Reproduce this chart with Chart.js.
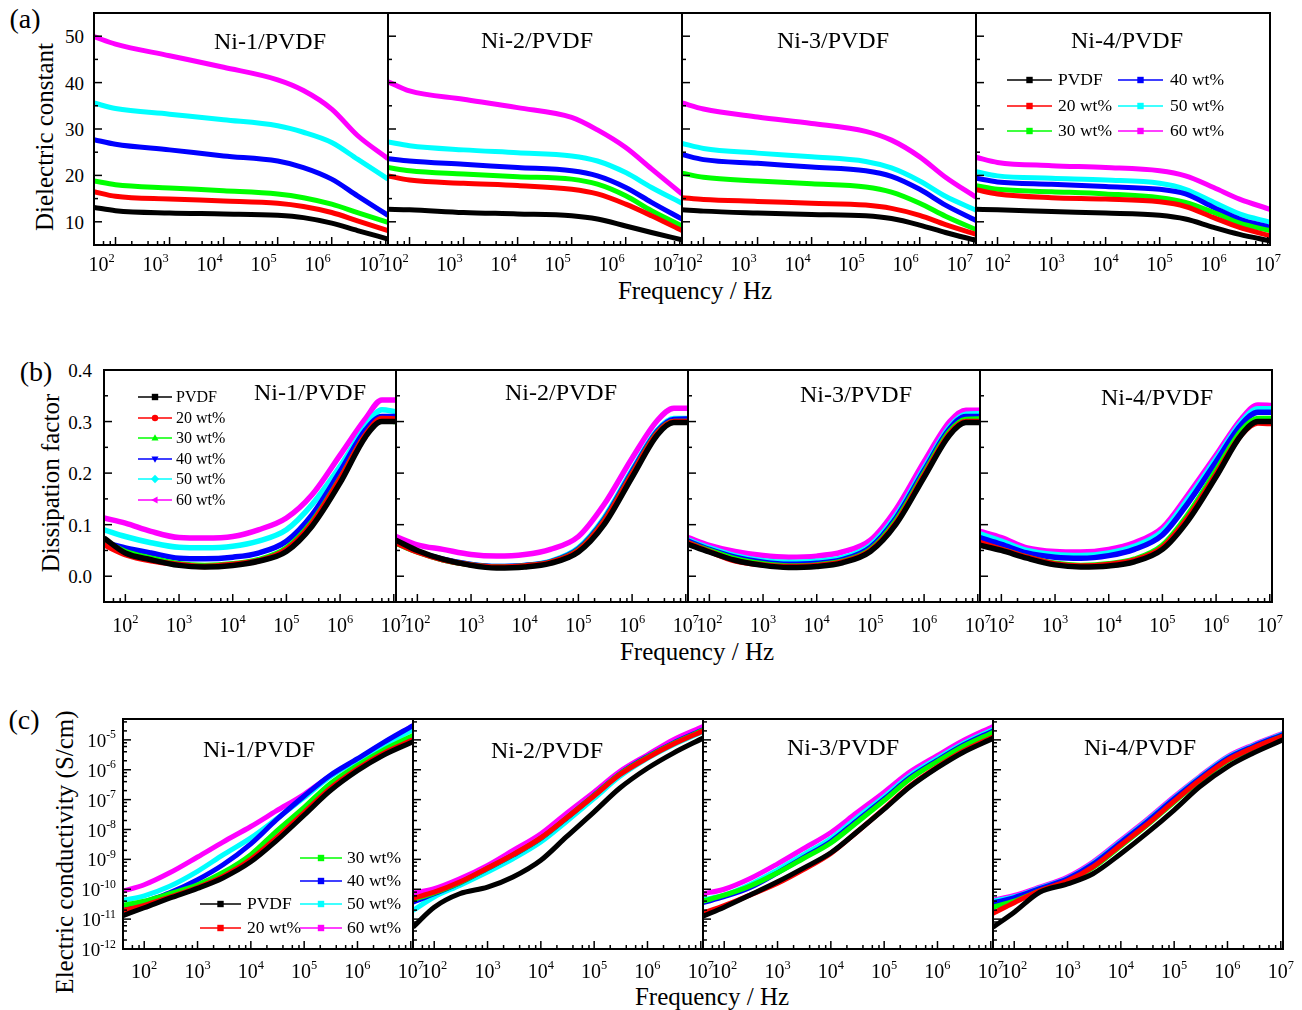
<!DOCTYPE html>
<html>
<head>
<meta charset="utf-8">
<title>Ni/PVDF dielectric spectra</title>
<script src="https://cdn.jsdelivr.net/npm/chart.js@4.4.1/dist/chart.umd.min.js"></script>
<style>
  html, body { margin: 0; padding: 0; background: #fff; }
  body { position: relative; width: 1302px; height: 1010px; overflow: hidden;
         font-family: "Liberation Serif", "Times New Roman", serif; color: #000; }
  canvas { position: absolute; }
  .t { position: absolute; white-space: nowrap; line-height: 1; transform: translate(-50%, -50%); }
  .tl { position: absolute; white-space: nowrap; line-height: 1; transform: translateY(-50%); }
  .tr { position: absolute; white-space: nowrap; line-height: 1; transform: translate(-100%, -50%); }
  .rot { transform: translate(-50%, -50%) rotate(-90deg); }
  sup { font-size: 0.62em; line-height: 0; vertical-align: baseline; position: relative; top: -0.72em; }
  svg.mk { position: absolute; overflow: visible; }
</style>
</head>
<body>

<div class="t" style="left:25px;top:19px;font-size:28px">(a)</div>
<div class="t" style="left:36px;top:372px;font-size:28px">(b)</div>
<div class="t" style="left:24px;top:720px;font-size:28px">(c)</div>

<div class="t rot" style="left:44px;top:137px;font-size:25px">Dielectric constant</div>
<div class="t rot" style="left:50px;top:483px;font-size:25px">Dissipation factor</div>
<div class="t rot" style="left:64px;top:852px;font-size:25px">Electric conductivity (S/cm)</div>

<div class="t" style="left:695px;top:290px;font-size:25px">Frequency / Hz</div>
<div class="t" style="left:697px;top:651px;font-size:25px">Frequency / Hz</div>
<div class="t" style="left:712px;top:996px;font-size:25px">Frequency / Hz</div>

<script>
// ---- data ----
// frequencies (Hz) at which values were read
var freqA = [40, 100, 1e3, 1e4, 1e5, 3e5, 1e6, 3e6, 1.1e7];
var freqB = [40, 100, 300, 1e3, 3e3, 1e4, 3e4, 1e5, 3e5, 1e6, 3e6, 6e6, 1.1e7];
var freqC = [40, 100, 300, 1e3, 3e3, 1e4, 3e4, 1e5, 3e5, 1e6, 3e6, 1.1e7];

var seriesNames = ['PVDF', '20 wt%', '30 wt%', '40 wt%', '50 wt%', '60 wt%'];
var seriesColors = ['#000000', '#ff0000', '#00ff00', '#0000ff', '#00ffff', '#ff00ff'];
var panelNames = ['Ni-1/PVDF', 'Ni-2/PVDF', 'Ni-3/PVDF', 'Ni-4/PVDF'];

var xTicks = [1e2, 1e3, 1e4, 1e5, 1e6, 1e7];
var yTicksA = [10, 20, 30, 40, 50];
var yTicksB = [0, 0.1, 0.2, 0.3, 0.4];
var yTicksC = [1e-12, 1e-11, 1e-10, 1e-9, 1e-8, 1e-7, 1e-6, 1e-5];

// (a) dielectric constant, one row per series (PVDF .. 60 wt%)
var epsNi1 = [
  [13.1, 12.4, 11.9, 11.7, 11.4, 10.9, 9.7, 8.1, 6.3],
  [16.5, 15.5, 14.9, 14.5, 14.0, 13.3, 12.0, 10.2, 8.1],
  [18.8, 18.0, 17.3, 16.7, 16.0, 15.2, 13.8, 12.0, 9.9],
  [27.7, 26.7, 25.5, 24.2, 23.1, 21.7, 19.2, 15.6, 11.4],
  [35.6, 34.4, 33.2, 32.0, 30.7, 29.3, 27.1, 23.5, 19.2],
  [49.9, 48.3, 45.8, 43.3, 40.6, 38.3, 34.3, 28.6, 23.6]
];
var epsNi2 = [
  [12.7, 12.6, 12.0, 11.7, 11.3, 10.6, 9.1, 7.7, 6.1],
  [19.9, 19.0, 18.3, 17.8, 17.0, 16.0, 13.8, 11.3, 8.1],
  [21.7, 21.0, 20.3, 19.7, 19.2, 18.1, 15.6, 12.4, 9.1],
  [23.6, 23.1, 22.4, 21.7, 21.0, 19.9, 17.4, 14.2, 10.6],
  [27.2, 26.4, 25.5, 24.9, 24.2, 23.1, 20.6, 17.4, 14.0],
  [40.2, 38.2, 36.4, 34.6, 32.5, 29.8, 26.0, 21.4, 16.0]
];
var epsNi3 = [
  [12.6, 12.3, 11.9, 11.6, 11.3, 10.7, 9.3, 7.7, 6.0],
  [15.2, 14.8, 14.4, 14.0, 13.6, 12.9, 11.4, 9.4, 7.3],
  [20.5, 19.6, 18.8, 18.2, 17.5, 16.4, 14.0, 11.2, 8.3],
  [24.5, 23.4, 22.6, 21.8, 21.0, 19.8, 17.0, 13.6, 10.3],
  [26.9, 25.8, 24.8, 24.0, 23.0, 21.6, 18.8, 15.5, 12.5],
  [35.6, 34.3, 32.6, 31.2, 29.5, 27.6, 24.0, 19.6, 15.3]
];
var epsNi4 = [
  [12.7, 12.6, 12.2, 11.9, 11.4, 10.6, 8.8, 7.3, 5.9],
  [16.9, 16.0, 15.2, 14.9, 14.3, 13.3, 10.9, 8.8, 7.0],
  [17.8, 17.0, 16.5, 16.0, 15.2, 14.2, 12.0, 9.7, 8.1],
  [19.4, 18.6, 18.1, 17.6, 17.0, 16.0, 13.1, 10.6, 8.8],
  [20.8, 19.9, 19.4, 19.0, 18.3, 17.0, 14.2, 11.7, 9.9],
  [23.9, 22.8, 22.1, 21.7, 21.0, 19.9, 17.4, 14.9, 12.7]
];

// (b) dissipation factor
var tanNi1 = [
  [0.074, 0.045, 0.032, 0.021, 0.018, 0.021, 0.029, 0.048, 0.097, 0.181, 0.271, 0.300, 0.300],
  [0.061, 0.042, 0.030, 0.023, 0.019, 0.023, 0.030, 0.052, 0.103, 0.189, 0.275, 0.306, 0.305],
  [0.068, 0.048, 0.035, 0.024, 0.021, 0.024, 0.032, 0.055, 0.106, 0.190, 0.274, 0.303, 0.300],
  [0.065, 0.055, 0.045, 0.035, 0.034, 0.037, 0.045, 0.068, 0.119, 0.203, 0.284, 0.310, 0.310],
  [0.090, 0.077, 0.065, 0.056, 0.055, 0.058, 0.068, 0.090, 0.139, 0.213, 0.290, 0.323, 0.319],
  [0.113, 0.103, 0.087, 0.075, 0.074, 0.077, 0.090, 0.113, 0.158, 0.235, 0.306, 0.342, 0.342]
];
var tanNi2 = [
  [0.070, 0.050, 0.033, 0.021, 0.016, 0.018, 0.025, 0.047, 0.100, 0.192, 0.275, 0.298, 0.298],
  [0.065, 0.047, 0.032, 0.022, 0.018, 0.020, 0.027, 0.050, 0.106, 0.198, 0.278, 0.300, 0.300],
  [0.064, 0.047, 0.032, 0.022, 0.018, 0.020, 0.027, 0.051, 0.107, 0.199, 0.279, 0.300, 0.300],
  [0.066, 0.048, 0.033, 0.023, 0.019, 0.021, 0.028, 0.053, 0.110, 0.203, 0.282, 0.304, 0.305],
  [0.065, 0.048, 0.032, 0.023, 0.019, 0.021, 0.029, 0.055, 0.113, 0.206, 0.284, 0.306, 0.306],
  [0.077, 0.061, 0.052, 0.042, 0.039, 0.042, 0.052, 0.077, 0.139, 0.229, 0.303, 0.326, 0.326]
];
var tanNi3 = [
  [0.062, 0.047, 0.031, 0.021, 0.017, 0.019, 0.026, 0.048, 0.101, 0.192, 0.274, 0.298, 0.298],
  [0.065, 0.048, 0.030, 0.022, 0.019, 0.021, 0.028, 0.050, 0.104, 0.196, 0.277, 0.300, 0.300],
  [0.065, 0.050, 0.034, 0.024, 0.020, 0.022, 0.029, 0.052, 0.108, 0.200, 0.281, 0.304, 0.305],
  [0.068, 0.052, 0.037, 0.027, 0.023, 0.025, 0.032, 0.056, 0.113, 0.205, 0.286, 0.310, 0.310],
  [0.070, 0.055, 0.040, 0.030, 0.027, 0.029, 0.036, 0.060, 0.118, 0.210, 0.290, 0.314, 0.315],
  [0.075, 0.060, 0.048, 0.040, 0.037, 0.039, 0.047, 0.070, 0.130, 0.222, 0.300, 0.322, 0.322]
];
var tanNi4 = [
  [0.060, 0.050, 0.035, 0.022, 0.018, 0.020, 0.028, 0.052, 0.108, 0.193, 0.275, 0.300, 0.300],
  [0.065, 0.052, 0.037, 0.024, 0.020, 0.023, 0.031, 0.056, 0.114, 0.198, 0.275, 0.297, 0.296],
  [0.062, 0.052, 0.037, 0.025, 0.021, 0.024, 0.033, 0.060, 0.120, 0.205, 0.283, 0.306, 0.306],
  [0.075, 0.062, 0.045, 0.037, 0.035, 0.040, 0.052, 0.080, 0.142, 0.222, 0.295, 0.318, 0.318],
  [0.082, 0.068, 0.050, 0.042, 0.040, 0.045, 0.058, 0.087, 0.150, 0.228, 0.300, 0.325, 0.325],
  [0.087, 0.075, 0.055, 0.048, 0.047, 0.052, 0.065, 0.094, 0.158, 0.235, 0.306, 0.332, 0.331]
];

// (c) electric conductivity, stored as log10(S/cm)
var logSigmaNi1 = [
  [-10.88, -10.62, -10.30, -9.97, -9.62, -9.08, -8.38, -7.52, -6.72, -6.03, -5.52, -5.06],
  [-10.71, -10.54, -10.26, -9.94, -9.57, -9.00, -8.28, -7.43, -6.64, -5.97, -5.46, -5.00],
  [-10.54, -10.40, -10.15, -9.85, -9.44, -8.84, -8.06, -7.26, -6.48, -5.85, -5.35, -4.85],
  [-10.71, -10.43, -10.12, -9.68, -9.18, -8.48, -7.68, -6.88, -6.20, -5.63, -5.10, -4.52],
  [-10.37, -10.22, -9.90, -9.40, -8.85, -8.28, -7.65, -6.93, -6.25, -5.68, -5.18, -4.66],
  [-10.06, -9.85, -9.45, -8.92, -8.42, -7.90, -7.38, -6.82, -6.22, -5.65, -5.13, -4.52]
];
var logSigmaNi2 = [
  [-11.27, -10.60, -10.15, -9.93, -9.59, -9.03, -8.25, -7.41, -6.62, -5.95, -5.45, -4.94],
  [-10.30, -10.10, -9.76, -9.29, -8.84, -8.28, -7.62, -6.87, -6.17, -5.60, -5.15, -4.70],
  [-10.35, -10.12, -9.78, -9.30, -8.85, -8.29, -7.62, -6.86, -6.15, -5.58, -5.13, -4.68],
  [-10.43, -10.15, -9.79, -9.31, -8.86, -8.30, -7.63, -6.85, -6.14, -5.56, -5.11, -4.66],
  [-10.71, -10.26, -9.87, -9.42, -8.98, -8.42, -7.74, -6.96, -6.23, -5.62, -5.17, -4.72],
  [-10.13, -9.98, -9.65, -9.20, -8.70, -8.14, -7.46, -6.74, -6.06, -5.50, -5.00, -4.55]
];
var logSigmaNi3 = [
  [-10.90, -10.60, -10.20, -9.75, -9.30, -8.78, -8.10, -7.32, -6.58, -5.93, -5.42, -4.95],
  [-10.80, -10.55, -10.20, -9.80, -9.35, -8.80, -8.10, -7.30, -6.55, -5.90, -5.38, -4.90],
  [-10.40, -10.20, -9.90, -9.45, -8.98, -8.45, -7.78, -7.03, -6.32, -5.72, -5.22, -4.75],
  [-10.45, -10.25, -9.95, -9.45, -8.95, -8.40, -7.72, -6.98, -6.27, -5.68, -5.18, -4.70],
  [-10.35, -10.20, -9.85, -9.35, -8.85, -8.30, -7.62, -6.90, -6.20, -5.62, -5.13, -4.65],
  [-10.15, -10.00, -9.65, -9.15, -8.65, -8.10, -7.45, -6.75, -6.08, -5.52, -5.03, -4.55]
];
var logSigmaNi4 = [
  [-11.27, -10.77, -10.10, -9.82, -9.48, -8.81, -8.14, -7.35, -6.57, -5.90, -5.45, -5.00],
  [-10.80, -10.45, -10.05, -9.72, -9.25, -8.52, -7.85, -7.05, -6.35, -5.68, -5.27, -4.87],
  [-10.60, -10.40, -10.05, -9.75, -9.28, -8.55, -7.88, -7.08, -6.38, -5.70, -5.28, -4.87],
  [-10.45, -10.28, -9.98, -9.65, -9.16, -8.43, -7.76, -6.97, -6.29, -5.62, -5.22, -4.82],
  [-10.40, -10.25, -9.96, -9.63, -9.13, -8.40, -7.73, -6.94, -6.26, -5.59, -5.20, -4.80],
  [-10.37, -10.21, -9.93, -9.59, -9.09, -8.36, -7.69, -6.90, -6.23, -5.56, -5.17, -4.78]
];

// ---- drawing ----
var X_MIN = 40, X_MAX = 1.1e7;

function powHtml(v) {
  return '10<sup>' + Math.round(Math.log10(v)) + '</sup>';
}

function logMinors(lo, hi) {
  var out = [];
  for (var e = Math.floor(Math.log10(lo)); e <= Math.ceil(Math.log10(hi)); e++) {
    [2, 4, 6, 8].forEach(function (m) {
      var v = m * Math.pow(10, e);
      if (v > lo && v < hi) out.push(v);
    });
  }
  return out;
}

// box frame + inward tick marks, like the original plotting program
var frameTicks = {
  id: 'frameTicks',
  afterDatasetsDraw: function (chart, args, o) {
    var ctx = chart.ctx, a = chart.chartArea, sx = chart.scales.x, sy = chart.scales.y;
    ctx.save();
    ctx.strokeStyle = '#000';
    ctx.lineWidth = 1.5;
    function vt(v, len) {
      var p = sx.getPixelForValue(v);
      ctx.beginPath(); ctx.moveTo(p, a.bottom); ctx.lineTo(p, a.bottom - len); ctx.stroke();
    }
    function ht(v, len) {
      var p = sy.getPixelForValue(v);
      ctx.beginPath(); ctx.moveTo(a.left, p); ctx.lineTo(a.left + len, p); ctx.stroke();
    }
    o.xMajor.forEach(function (v) { vt(v, 8); });
    o.xMinor.forEach(function (v) { vt(v, 4); });
    o.yMajor.forEach(function (v) { ht(v, 8); });
    o.yMinor.forEach(function (v) { ht(v, 4); });
    ctx.lineWidth = 2;
    ctx.strokeRect(a.left, a.top, a.right - a.left, a.bottom - a.top);
    ctx.restore();
  }
};
Chart.register(frameTicks);

function addText(x, y, html, size, cls) {
  var d = document.createElement('div');
  d.className = cls || 't';
  d.style.left = x + 'px';
  d.style.top = y + 'px';
  d.style.fontSize = size + 'px';
  d.innerHTML = html;
  document.body.appendChild(d);
}

function addPanel(p) {
  var padT = 22, padR = 30, padB = 46, padL = 4;
  var w = p.w + padL + padR, h = p.h + padT + padB;
  var cvLeft = p.x - padL, cvTop = p.y - padT;
  var cv = document.createElement('canvas');
  cv.width = w; cv.height = h;
  cv.style.left = cvLeft + 'px';
  cv.style.top = cvTop + 'px';
  cv.style.width = w + 'px';
  cv.style.height = h + 'px';
  document.body.appendChild(cv);

  var datasets = p.values.map(function (vals, i) {
    return {
      label: seriesNames[i],
      data: p.freq.map(function (f, j) { return { x: f, y: p.toY ? p.toY(vals[j]) : vals[j] }; }),
      borderColor: seriesColors[i],
      backgroundColor: seriesColors[i],
      borderWidth: p.lw,
      pointRadius: 0,
      fill: false,
      cubicInterpolationMode: 'monotone'
    };
  });

  var chart = new Chart(cv.getContext('2d'), {
    type: 'line',
    data: { datasets: datasets },
    options: {
      responsive: false,
      animation: false,
      devicePixelRatio: 1,
      events: [],
      layout: { padding: { top: padT, right: padR, bottom: 0, left: padL } },
      plugins: {
        legend: { display: false },
        tooltip: { enabled: false },
        frameTicks: { xMajor: xTicks, xMinor: logMinors(X_MIN, X_MAX), yMajor: p.yTicks, yMinor: p.yMinor }
      },
      scales: {
        x: {
          type: 'logarithmic', min: X_MIN, max: X_MAX,
          grid: { display: false, drawTicks: false }, border: { display: false },
          afterBuildTicks: function (s) { s.ticks = xTicks.map(function (v) { return { value: v }; }); },
          afterFit: function (s) { s.height = padB; },
          ticks: { display: false }
        },
        y: {
          type: p.yType, min: p.yMin, max: p.yMax,
          grid: { display: false, drawTicks: false }, border: { display: false },
          afterBuildTicks: function (s) { s.ticks = p.yTicks.map(function (v) { return { value: v }; }); },
          afterFit: function (s) { s.width = 0; },
          ticks: { display: false }
        }
      }
    }
  });

  // tick labels as html text, placed through the chart's own scales
  var a = chart.chartArea, sx = chart.scales.x, sy = chart.scales.y;
  xTicks.forEach(function (v) {
    addText(cvLeft + sx.getPixelForValue(v) + (p.xOff || 0), cvTop + a.bottom + p.xLabDy, powHtml(v), 20);
  });
  if (p.showY) {
    p.yTicks.forEach(function (v) {
      addText(cvLeft + a.left - p.yGap, cvTop + sy.getPixelForValue(v), p.yFmt(v), 19, 'tr');
    });
  }
}

var SVGNS = 'http://www.w3.org/2000/svg';
function markerShape(shape, cx, cy, r) {
  var el;
  if (shape === 'circle') {
    el = document.createElementNS(SVGNS, 'circle');
    el.setAttribute('cx', cx); el.setAttribute('cy', cy); el.setAttribute('r', r);
    return el;
  }
  var pts;
  if (shape === 'square') pts = [[-r, -r], [r, -r], [r, r], [-r, r]];
  else if (shape === 'triUp') pts = [[0, -r * 1.2], [r * 1.1, r * 0.8], [-r * 1.1, r * 0.8]];
  else if (shape === 'triDown') pts = [[0, r * 1.2], [r * 1.1, -r * 0.8], [-r * 1.1, -r * 0.8]];
  else if (shape === 'diamond') pts = [[0, -r * 1.3], [r * 1.3, 0], [0, r * 1.3], [-r * 1.3, 0]];
  else pts = [[-r * 1.2, 0], [r * 0.8, -r * 1.1], [r * 0.8, r * 1.1]];
  el = document.createElementNS(SVGNS, 'polygon');
  el.setAttribute('points', pts.map(function (q) { return (cx + q[0]) + ',' + (cy + q[1]); }).join(' '));
  return el;
}

function addLegendEntry(x1, x2, y, tx, idx, shape, size) {
  var svg = document.createElementNS(SVGNS, 'svg');
  svg.setAttribute('class', 'mk');
  svg.setAttribute('width', x2 - x1);
  svg.setAttribute('height', 12);
  svg.style.left = x1 + 'px';
  svg.style.top = (y - 6) + 'px';
  var ln = document.createElementNS(SVGNS, 'line');
  ln.setAttribute('x1', 0); ln.setAttribute('x2', x2 - x1);
  ln.setAttribute('y1', 6); ln.setAttribute('y2', 6);
  ln.setAttribute('stroke', seriesColors[idx]); ln.setAttribute('stroke-width', 1.6);
  svg.appendChild(ln);
  var m = markerShape(shape, (x2 - x1) / 2, 6, 3.2);
  m.setAttribute('fill', seriesColors[idx]);
  svg.appendChild(m);
  document.body.appendChild(svg);
  addText(tx, y, seriesNames[idx], size, 'tl');
}

// ---- rows ----
var rowA = { y: 13, h: 232, w: 294, lefts: [94, 388, 682, 976], yGap: 10, xLabDy: 19,
             yType: 'linear', yMin: 5, yMax: 55, yTicks: yTicksA, yMinor: [15, 25, 35, 45],
             yFmt: function (v) { return String(v); }, freq: freqA, lw: 5,
             sets: [epsNi1, epsNi2, epsNi3, epsNi4], xOffs: [-14, -14, -14, 0] };
var rowB = { y: 370, h: 232, w: 292, lefts: [104, 396, 688, 980], yGap: 12, xLabDy: 23,
             yType: 'linear', yMin: -0.05, yMax: 0.4, yTicks: yTicksB, yMinor: [0.05, 0.15, 0.25, 0.35],
             yFmt: function (v) { return v.toFixed(1); }, freq: freqB, lw: 5.5,
             sets: [tanNi1, tanNi2, tanNi3, tanNi4], xOffs: [0, 0, 0, 0] };
var rowC = { y: 719, h: 230, w: 290, lefts: [123, 413, 703, 993], yGap: 7, xLabDy: 22,
             yType: 'logarithmic', yMin: 1e-12, yMax: 5e-5, yTicks: yTicksC, yMinor: logMinors(1e-12, 5e-5),
             yFmt: powHtml, freq: freqC, lw: 5,
             toY: function (v) { return Math.pow(10, v); },
             sets: [logSigmaNi1, logSigmaNi2, logSigmaNi3, logSigmaNi4], xOffs: [0, 0, 0, 0] };

[rowA, rowB, rowC].forEach(function (r) {
  r.sets.forEach(function (vals, k) {
    addPanel({
      x: r.lefts[k], y: r.y, w: r.w, h: r.h, showY: k === 0, yGap: r.yGap, xLabDy: r.xLabDy,
      xOff: r.xOffs[k], yType: r.yType, yMin: r.yMin, yMax: r.yMax,
      yTicks: r.yTicks, yMinor: r.yMinor, yFmt: r.yFmt, freq: r.freq, values: vals,
      toY: r.toY, lw: r.lw
    });
  });
});

// panel titles
var titleA = [[270, 41], [537, 40], [833, 40], [1127, 40]];
var titleB = [[310, 392], [561, 392], [856, 394], [1157, 397]];
var titleC = [[259, 749], [547, 750], [843, 747], [1140, 747]];
[titleA, titleB, titleC].forEach(function (t) {
  t.forEach(function (pos, k) { addText(pos[0], pos[1], panelNames[k], 24); });
});

// legends
var colA = [{ x1: 1007, x2: 1052, tx: 1058 }, { x1: 1118, x2: 1163, tx: 1170 }];
var rowsA = [79.5, 105.5, 131];
for (var i = 0; i < 6; i++) {
  var c = colA[i < 3 ? 0 : 1];
  addLegendEntry(c.x1, c.x2, rowsA[i % 3], c.tx, i, 'square', 17.5);
}
var shapesB = ['square', 'circle', 'triUp', 'triDown', 'diamond', 'triLeft'];
var rowsB = [397, 417.5, 438, 458.5, 479, 499.5];
for (i = 0; i < 6; i++) addLegendEntry(138, 172, rowsB[i], 176, i, shapesB[i], 16);
var legC = [[200, 241, 904, 247], [200, 241, 927.5, 247], [300, 342, 858, 347],
            [300, 342, 881, 347], [300, 342, 904, 347], [300, 342, 927.5, 347]];
for (i = 0; i < 6; i++) addLegendEntry(legC[i][0], legC[i][1], legC[i][2], legC[i][3], i, 'square', 17.5);
</script>
</body>
</html>
